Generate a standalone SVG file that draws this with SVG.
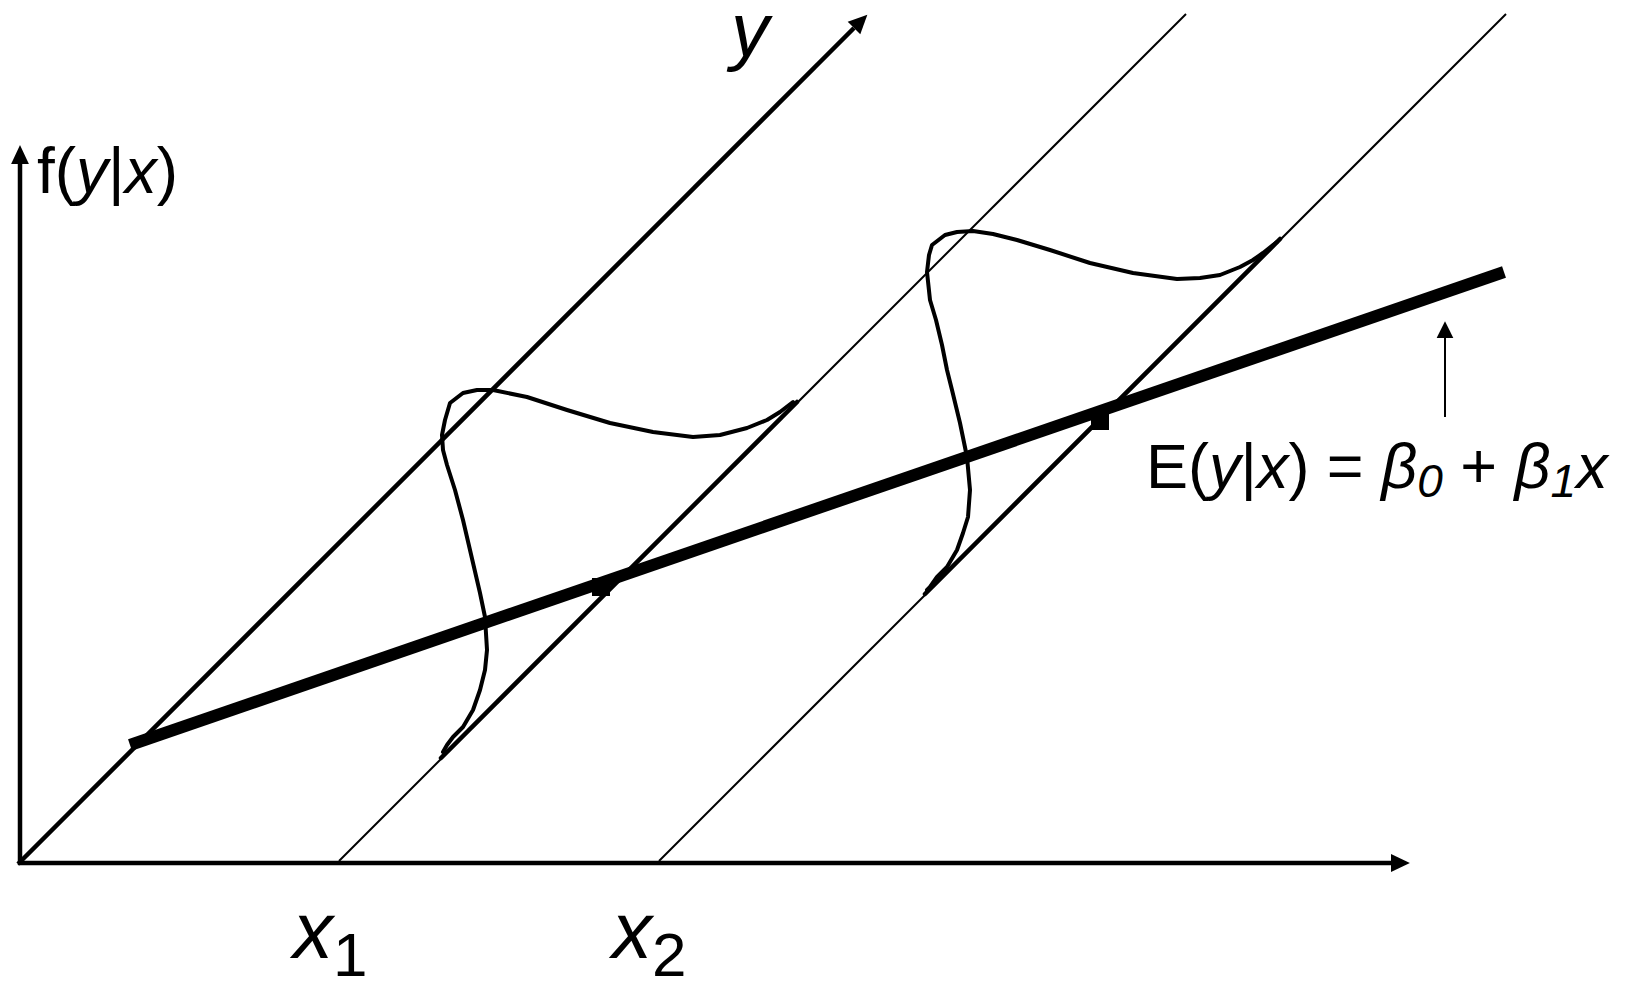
<svg xmlns="http://www.w3.org/2000/svg" width="1627" height="982" viewBox="0 0 1627 982">
<style>
.ax{stroke:#000;stroke-width:4.5;fill:none}
.thin{stroke:#000;stroke-width:2;fill:none}
.mid{stroke:#000;stroke-width:4.5;fill:none;stroke-linecap:round}
.curve{stroke:#000;stroke-width:4;fill:none;stroke-linejoin:round;stroke-linecap:round}
.reg{stroke:#000;stroke-width:12;fill:none}
text{font-family:"Liberation Sans",Arial,sans-serif;fill:#000}
.it{font-style:italic}
</style>
<defs>
<marker id="ah" markerUnits="userSpaceOnUse" markerWidth="20" markerHeight="20" viewBox="0 -9 18 18" refX="0" refY="0" orient="auto" overflow="visible">
<path d="M0,-8 L17,0 L0,8 z" fill="#000"/>
</marker>
<marker id="ahs" markerUnits="userSpaceOnUse" markerWidth="20" markerHeight="20" viewBox="0 -9 18 18" refX="0" refY="0" orient="auto" overflow="visible">
<path d="M0,-7.5 L15,0 L0,7.5 z" fill="#000"/>
</marker>
</defs>
<g id="axes">
<line class="ax" x1="20" y1="865" x2="20" y2="164" marker-end="url(#ah)"/>
<line class="ax" x1="18" y1="863" x2="1391" y2="863" marker-end="url(#ah)"/>
<line class="ax" x1="18" y1="864" x2="854" y2="28" marker-end="url(#ah)"/>
</g>
<g id="guides">
<line class="thin" x1="339" y1="861" x2="1186" y2="14"/>
<line class="thin" x1="659" y1="861" x2="1506" y2="14"/>
<line class="mid" x1="441" y1="758" x2="797" y2="402"/>
<line class="mid" x1="925" y1="594" x2="1280" y2="239"/>
</g>
<g id="regression">
<line class="reg" x1="130" y1="745" x2="1504" y2="272"/>
<rect x="592" y="578" width="18" height="18" fill="#000"/>
<rect x="1091" y="413" width="18" height="17" fill="#000"/>
</g>
<g id="density1">
<polyline class="curve" points="443,752 447,745 453,737 463,727 473,710 480,690 485,670 487,650 485,617 480,593 470,550 463,520 455,490 447,465 443,450 442,435 445,420 450,403 463,393 477,390 493,390 527,397 567,410 610,423 653,432 693,437 720,435 747,428 767,420 780,412 793,402"/>
</g>
<g id="density2">
<polyline class="curve" points="927,590 930,587 937,577 947,567 957,550 963,533 968,517 970,490 967,457 960,423 952,390 947,370 942,345 936,320 930,300 927,272 929,255 932,245 945,235 957,232 973,231 993,234 1017,240 1050,250 1090,263 1133,273 1177,279 1200,278 1220,275 1240,267 1253,260 1263,253 1273,245 1277,242"/>
</g>
<g id="connectors">
<line class="thin" x1="1445" y1="417" x2="1445" y2="338" marker-end="url(#ahs)"/>
</g>
<g id="labels">
<text x="37" y="193" font-size="64">f(<tspan class="it">y</tspan>|<tspan class="it">x</tspan>)</text>
<text x="731" y="56" font-size="76" class="it">y</text>
<text x="1146" y="488" font-size="63">E(<tspan class="it">y</tspan>|<tspan class="it">x</tspan>) = <tspan class="it">β</tspan><tspan class="it" font-size="46" dy="9">0</tspan><tspan dy="-9"> + </tspan><tspan class="it">β</tspan><tspan class="it" font-size="46" dy="9">1</tspan><tspan class="it" dy="-9">x</tspan></text>
<text x="293" y="958" font-size="80"><tspan class="it">x</tspan><tspan font-size="62" dy="18">1</tspan></text>
<text x="612" y="958" font-size="80"><tspan class="it">x</tspan><tspan font-size="62" dy="18">2</tspan></text>
</g>
</svg>
